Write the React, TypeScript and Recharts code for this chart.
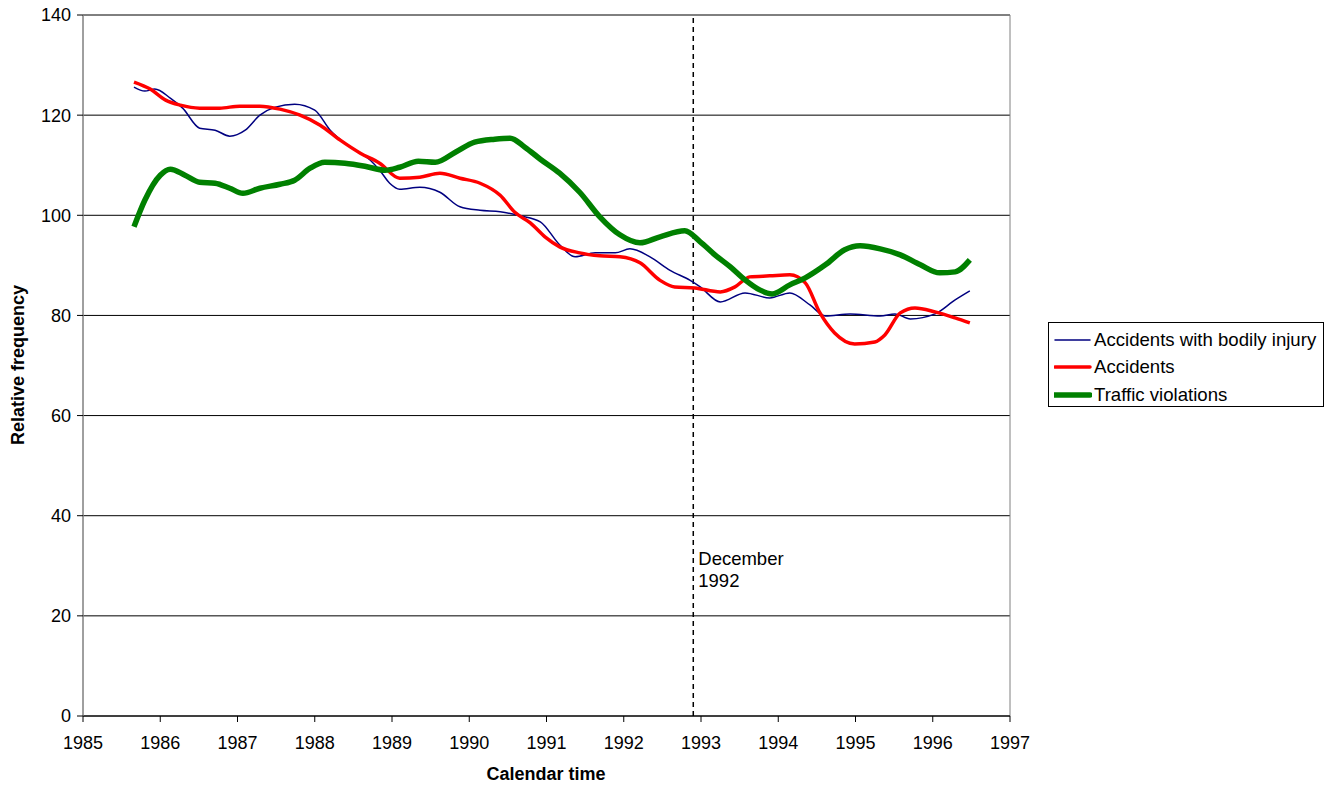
import React from 'react';
import {
  LineChart,
  Line,
  XAxis,
  YAxis,
  CartesianGrid,
  ReferenceLine,
  ReferenceArea,
} from 'recharts';

const xTicks = [1985, 1986, 1987, 1988, 1989, 1990, 1991, 1992, 1993, 1994, 1995, 1996, 1997];
const yTicks = [0, 20, 40, 60, 80, 100, 120, 140];

const injuryYears = [
  1985.66, 1985.8, 1985.93, 1986.13, 1986.29, 1986.51, 1986.71, 1986.9, 1987.1, 1987.29,
  1987.49, 1987.74, 1988.0, 1988.2, 1988.46, 1988.72, 1988.84, 1988.97, 1989.1, 1989.36,
  1989.62, 1989.88, 1990.14, 1990.4, 1990.66, 1990.92, 1991.17, 1991.37, 1991.63, 1991.89,
  1992.08, 1992.34, 1992.6, 1992.86, 1992.99, 1993.25, 1993.57, 1993.89, 1994.15, 1994.41,
  1994.61, 1994.93, 1995.32, 1995.51, 1995.71, 1996.03, 1996.29, 1996.48,
];
const injuryValues = [
  125.6, 124.8, 125.2, 123.4, 121.4, 117.4, 117.0, 115.8, 117.0, 120.0,
  121.6, 122.2, 121.0, 117.0, 113.6, 111.0, 109.0, 106.4, 105.2, 105.6,
  104.6, 101.7, 101.0, 100.7, 99.9, 98.7, 94.1, 91.7, 92.5, 92.5,
  93.3, 91.7, 89.0, 87.0, 85.7, 82.7, 84.5, 83.5, 84.5, 82.1,
  79.9, 80.3, 79.9, 80.3, 79.3, 80.3, 83.1, 84.9,
];

const accidentYears = [
  1985.66, 1985.87, 1986.07, 1986.26, 1986.51, 1986.77, 1987.03, 1987.29, 1987.55, 1987.81,
  1988.07, 1988.33, 1988.59, 1988.84, 1989.1, 1989.36, 1989.62, 1989.88, 1990.14, 1990.4,
  1990.59, 1990.79, 1990.98, 1991.17, 1991.43, 1991.69, 1991.95, 1992.21, 1992.47, 1992.66,
  1992.92, 1993.25, 1993.44, 1993.63, 1993.89, 1994.15, 1994.35, 1994.54, 1994.73, 1994.99,
  1995.25, 1995.38, 1995.58, 1995.77, 1996.03, 1996.29, 1996.48,
];
const accidentValues = [
  126.6, 125.2, 123.0, 122.0, 121.4, 121.4, 121.8, 121.8, 121.2, 120.0,
  118.0, 115.0, 112.4, 110.4, 107.4, 107.6, 108.4, 107.4, 106.4, 104.0,
  100.6, 98.5, 95.7, 93.7, 92.5, 91.9, 91.7, 90.5, 87.0, 85.7,
  85.5, 84.7, 85.7, 87.7, 87.9, 88.1, 86.5, 80.5, 76.5, 74.3,
  74.7, 76.1, 80.5, 81.5, 80.7, 79.5, 78.5,
];

const violationYears = [
  1985.66, 1985.8, 1986.0, 1986.13, 1986.32, 1986.51, 1986.71, 1986.9, 1987.07, 1987.29,
  1987.55, 1987.74, 1987.94, 1988.13, 1988.39, 1988.65, 1988.91, 1989.1, 1989.34, 1989.56,
  1989.82, 1990.07, 1990.33, 1990.53, 1990.72, 1990.92, 1991.17, 1991.43, 1991.69, 1991.95,
  1992.21, 1992.47, 1992.79, 1992.99, 1993.18, 1993.38, 1993.57, 1993.76, 1993.92, 1994.15,
  1994.35, 1994.61, 1994.86, 1995.06, 1995.32, 1995.58, 1995.84, 1996.09, 1996.29, 1996.48,
];
const violationValues = [
  97.7, 103.0, 108.0, 109.2, 108.0, 106.6, 106.4, 105.4, 104.4, 105.4,
  106.2, 107.0, 109.4, 110.6, 110.4, 109.8, 109.0, 109.6, 110.8, 110.6,
  112.6, 114.6, 115.2, 115.4, 113.6, 111.2, 108.4, 104.6, 99.7, 96.1,
  94.5, 95.7, 96.9, 94.7, 92.1, 89.7, 87.1, 85.1, 84.3, 86.1,
  87.5, 90.1, 93.1, 93.9, 93.3, 92.1, 90.1, 88.5, 88.7, 91.1,
];

const december1992 = 1992.9;

const toPoints = (years: number[], values: number[]) =>
  years.map((year, i) => ({ year, value: values[i] }));

const series = [
  { name: 'Accidents with bodily injury', color: '#000080', width: 1.5, data: toPoints(injuryYears, injuryValues) },
  { name: 'Accidents', color: '#FF0000', width: 3.5, data: toPoints(accidentYears, accidentValues) },
  { name: 'Traffic violations', color: '#008000', width: 5.5, data: toPoints(violationYears, violationValues) },
];

const font = '"Liberation Sans", Arial, sans-serif';
const tickStyle = { fontSize: 18, fill: '#000', fontFamily: font };

const DecemberLabel = (props: any) => {
  const { viewBox } = props;
  if (!viewBox) return null;
  const x = viewBox.x + 5;
  const y = viewBox.y;
  return (
    <text x={x} y={y} fontSize={18.5} fontFamily={font} fill="#000">
      <tspan x={x} y={y + 550}>December</tspan>
      <tspan x={x} y={y + 572}>1992</tspan>
    </text>
  );
};

export default function App() {
  return (
    <div style={{ position: 'absolute', left: 0, top: 0, width: 1335, height: 787, background: '#fff', fontFamily: font }}>
      <LineChart width={1335} height={787} margin={{ top: 15, right: 325, bottom: 31, left: 23 }}>
        <CartesianGrid vertical={false} stroke="#000" strokeWidth={1} />
        <ReferenceArea x1={1985} x2={1997} y1={0} y2={140} fill="none" stroke="#808080" strokeWidth={1} ifOverflow="visible" />
        <XAxis
          type="number"
          dataKey="year"
          domain={[1985, 1997]}
          ticks={xTicks}
          allowDuplicatedCategory={false}
          height={40}
          tick={tickStyle}
          tickSize={6}
          tickMargin={14}
          axisLine={{ stroke: '#000' }}
          tickLine={{ stroke: '#000' }}
        />
        <YAxis
          type="number"
          domain={[0, 140]}
          ticks={yTicks}
          width={60}
          tick={tickStyle}
          tickSize={6}
          tickMargin={6}
          axisLine={{ stroke: '#808080' }}
          tickLine={{ stroke: '#000' }}
        />
        <ReferenceLine
          x={december1992}
          stroke="#000"
          strokeWidth={1.5}
          strokeDasharray="5 4"
          label={<DecemberLabel />}
        />
        {series.map((s) => (
          <Line
            key={s.name}
            data={s.data}
            dataKey="value"
            name={s.name}
            type="monotone"
            stroke={s.color}
            strokeWidth={s.width}
            dot={false}
            activeDot={false}
            isAnimationActive={false}
          />
        ))}
      </LineChart>
      <div
        style={{
          position: 'absolute',
          left: 546,
          top: 764,
          transform: 'translateX(-50%)',
          fontSize: 18,
          fontWeight: 'bold',
          whiteSpace: 'nowrap',
        }}
      >
        Calendar time
      </div>
      <div
        style={{
          position: 'absolute',
          left: 18,
          top: 365,
          transform: 'translate(-50%, -50%) rotate(-90deg)',
          fontSize: 18,
          fontWeight: 'bold',
          whiteSpace: 'nowrap',
        }}
      >
        Relative frequency
      </div>
      <div
        style={{
          position: 'absolute',
          left: 1048,
          top: 322,
          width: 276,
          height: 85,
          border: '1px solid #000',
          boxSizing: 'border-box',
          padding: '3px 0 0 5px',
          fontSize: 18.6,
        }}
      >
        {series.map((s) => (
          <div key={s.name} style={{ display: 'flex', alignItems: 'center', height: 27.5 }}>
            <svg width={38} height={10} style={{ marginRight: 2 }}>
              <line x1={1} y1={5} x2={36} y2={5} stroke={s.color} strokeWidth={s.width} strokeLinecap="round" />
            </svg>
            <span style={{ whiteSpace: 'nowrap' }}>{s.name}</span>
          </div>
        ))}
      </div>
    </div>
  );
}
